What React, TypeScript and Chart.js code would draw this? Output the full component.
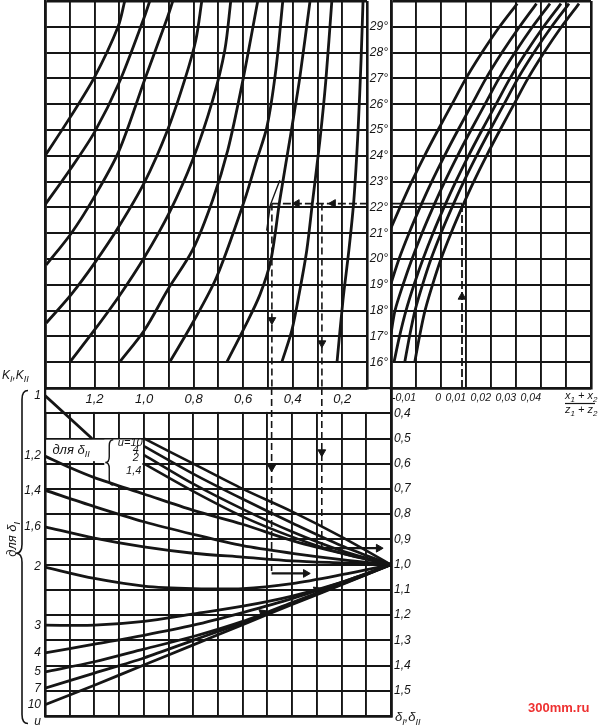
import { useEffect, useRef } from 'react';
import { Chart, registerables } from 'chart.js';

Chart.register(...registerables);

type Pt = [number, number];

const INK = '#151515';
const FONT = '"Liberation Sans", "DejaVu Sans", Arial, sans-serif';

/* ---------- upper-left field: coefficient 1,4 … 0,1 against β (15°…30°) ---------- */
const UL_TICK_LABELS = [1.2, 1.0, 0.8, 0.6, 0.4, 0.2];
const BETA_TICK_LABELS = [16, 17, 18, 19, 20, 21, 22, 23, 24, 25, 26, 27, 28, 29];

const UL_A: Pt[] = [[1.40, 24.0], [1.30, 25.47], [1.20, 27.05], [1.105, 29.0], [1.078, 30]];
const UL_B: Pt[] = [[1.40, 22.1], [1.30, 23.45], [1.20, 24.92], [1.10, 26.85], [1.00, 29.35], [0.977, 30]];
const UL_C: Pt[] = [[1.395, 19.77], [1.293, 21.01], [1.208, 22.29], [1.103, 24.15], [0.998, 26.94], [0.905, 29.38], [0.884, 30]];
const UL_D: Pt[] = [[1.395, 17.52], [1.293, 18.64], [1.20, 19.84], [1.103, 21.24], [0.998, 22.98], [0.905, 25.0], [0.836, 26.94], [0.791, 28.49], [0.767, 30]];
const UL_E: Pt[] = [[1.30, 16.0], [1.20, 17.25], [1.103, 18.53], [0.998, 20.08], [0.897, 21.82], [0.804, 23.84], [0.723, 26.16], [0.674, 28.1], [0.65, 30]];
const UL_F: Pt[] = [[1.099, 16.0], [0.998, 17.25], [0.905, 18.8], [0.804, 20.35], [0.723, 22.29], [0.662, 24.22], [0.605, 26.74], [0.541, 30]];
const UL_G: Pt[] = [[0.897, 16.0], [0.804, 17.52], [0.707, 19.3], [0.594, 22.29], [0.545, 23.84], [0.504, 25.12], [0.468, 27.33], [0.44, 30]];
const UL_H: Pt[] = [[0.666, 16.0], [0.594, 17.36], [0.533, 18.6], [0.488, 19.96], [0.452, 22.29], [0.403, 25.12], [0.371, 27.05], [0.33, 30]];
const UL_I: Pt[] = [[0.444, 16.0], [0.403, 17.25], [0.371, 18.8], [0.343, 20.35], [0.319, 22.29], [0.29, 24.61], [0.266, 26.94], [0.242, 30]];
const UL_J: Pt[] = [[0.221, 16.0], [0.197, 18.41], [0.173, 20.35], [0.153, 22.29], [0.136, 25.0], [0.124, 27.71], [0.116, 30]];

// worked example in the upper-left field
const UL_PATH_H: Pt[] = [[0.484, 22.15], [0.1, 22.15]];
const UL_PATH_V1: Pt[] = [[0.484, 22.15], [0.484, 15]];
const UL_PATH_V2: Pt[] = [[0.282, 22.15], [0.282, 15]];
const UL_MARK: Pt[] = [[0.452, 23.05], [0.49, 22.1], [0.505, 21.1]];
const UL_HEADS: Pt[] = [[0.383, 22.15], [0.237, 22.15], [0.484, 17.64], [0.282, 16.74]];
const UL_HEAD_DIR = [270, 270, 180, 180];

/* ---------- upper-right field: (x1+x2)/(z1+z2) against β ---------- */
const UR_TICK_LABELS = [-0.01, 0, 0.01, 0.02, 0.03, 0.04];

const UR_1: Pt[] = [[-0.02, 21.2], [-0.0164, 22], [-0.0117, 23], [-0.0066, 24], [-0.0012, 25], [0.0044, 26], [0.01, 27], [0.0164, 28], [0.0234, 29], [0.0305, 29.9]];
const UR_2: Pt[] = [[-0.02, 19.05], [-0.0168, 20], [-0.0128, 21], [-0.0084, 22], [-0.0037, 23], [0.0014, 24], [0.0068, 25], [0.0124, 26], [0.018, 27], [0.0244, 28], [0.0314, 29], [0.0382, 29.9]];
const UR_3: Pt[] = [[-0.02, 17.1], [-0.0184, 18], [-0.0152, 19], [-0.0116, 20], [-0.0076, 21], [-0.0032, 22], [0.0015, 23], [0.0066, 24], [0.012, 25], [0.0176, 26], [0.0232, 27], [0.0296, 28], [0.0366, 29], [0.0436, 29.9]];
const UR_4: Pt[] = [[-0.0188, 16], [-0.0166, 17], [-0.014, 18], [-0.0108, 19], [-0.0072, 20], [-0.0032, 21], [0.0012, 22], [0.0059, 23], [0.011, 24], [0.0164, 25], [0.022, 26], [0.0276, 27], [0.034, 28], [0.041, 29], [0.048, 29.9]];
const UR_5: Pt[] = [[-0.0145, 16], [-0.0126, 17], [-0.0104, 18], [-0.0074, 19], [-0.004, 20], [0.0, 21], [0.0044, 22], [0.0091, 23], [0.0142, 24], [0.0196, 25], [0.0252, 26], [0.0308, 27], [0.0372, 28], [0.0442, 29], [0.0512, 29.9]];
const UR_6: Pt[] = [[-0.0105, 16], [-0.0086, 17], [-0.0064, 18], [-0.0034, 19], [0.0, 20], [0.004, 21], [0.0084, 22], [0.0131, 23], [0.0182, 24], [0.0236, 25], [0.0292, 26], [0.0348, 27], [0.0412, 28], [0.0482, 29], [0.0552, 29.9]];

const UR_PATH_V: Pt[] = [[0.0084, 15], [0.0084, 22.15]];
const UR_PATH_H: Pt[] = [[0.0084, 22.15], [-0.02, 22.15]];
const UR_HEADS: Pt[] = [[0.0084, 18.53]];
const UR_HEAD_DIR = [0];

/* ---------- lower field: δ against the common abscissa ---------- */
const DELTA_TICK_LABELS = [0.4, 0.5, 0.6, 0.7, 0.8, 0.9, 1.0, 1.1, 1.2, 1.3, 1.4, 1.5];

const LO_K1: Pt[] = [[1.40, 0.33], [1.21, 0.50]];
const LO_K12: Pt[] = [[1.4, 0.57], [1.3, 0.615], [1.2, 0.655], [1.0, 0.72], [0.8, 0.785], [0.6, 0.84], [0.4, 0.905], [0.2, 0.955], [0, 1.0]];
const LO_K14: Pt[] = [[1.4, 0.705], [1.2, 0.77], [1.0, 0.83], [0.8, 0.88], [0.6, 0.925], [0.4, 0.955], [0.2, 0.98], [0, 1.0]];
const LO_K16: Pt[] = [[1.4, 0.85], [1.2, 0.895], [1.0, 0.93], [0.8, 0.955], [0.6, 0.97], [0.4, 0.985], [0.2, 0.993], [0, 1.0]];
const LO_K2: Pt[] = [[1.4, 1.01], [1.2, 1.055], [1.0, 1.085], [0.8, 1.095], [0.6, 1.095], [0.4, 1.075], [0.2, 1.04], [0, 1.0]];
const LO_K3: Pt[] = [[1.4, 1.24], [1.2, 1.24], [1.0, 1.225], [0.8, 1.195], [0.6, 1.165], [0.4, 1.125], [0.2, 1.07], [0, 1.0]];
const LO_K4: Pt[] = [[1.4, 1.35], [1.2, 1.315], [1.0, 1.28], [0.8, 1.24], [0.6, 1.19], [0.4, 1.135], [0.2, 1.07], [0, 1.0]];
const LO_K5: Pt[] = [[1.4, 1.425], [1.2, 1.385], [1.0, 1.335], [0.8, 1.285], [0.6, 1.225], [0.4, 1.15], [0.2, 1.075], [0, 1.0]];
const LO_K7: Pt[] = [[1.4, 1.49], [1.2, 1.43], [1.0, 1.37], [0.8, 1.30], [0.6, 1.23], [0.4, 1.155], [0.2, 1.078], [0, 1.0]];
const LO_K10: Pt[] = [[1.4, 1.555], [1.2, 1.478], [1.0, 1.398], [0.8, 1.318], [0.6, 1.238], [0.4, 1.158], [0.2, 1.08], [0, 1.0]];

const LO_U10: Pt[] = [[1.0, 0.50], [0.8, 0.60], [0.6, 0.70], [0.4, 0.79], [0.2, 0.89], [0, 1.0]];
const LO_U4: Pt[] = [[1.0, 0.53], [0.8, 0.64], [0.6, 0.74], [0.4, 0.835], [0.2, 0.925], [0, 1.0]];
const LO_U2: Pt[] = [[1.0, 0.565], [0.8, 0.68], [0.6, 0.78], [0.4, 0.87], [0.2, 0.945], [0, 1.0]];
const LO_U14: Pt[] = [[1.0, 0.60], [0.8, 0.71], [0.6, 0.81], [0.4, 0.89], [0.2, 0.955], [0, 1.0]];

const K_LABELS = ['1', '1,2', '1,4', '1,6', '2', '3', '4', '5', '7', '10'];
const K_CURVES = [LO_K1, LO_K12, LO_K14, LO_K16, LO_K2, LO_K3, LO_K4, LO_K5, LO_K7, LO_K10];
const U_LABELS = ['u=10', '4', '2', '1,4'];

const LO_PATH_V1: Pt[] = [[0.483, 0.3], [0.483, 1.035]];
const LO_PATH_V2: Pt[] = [[0.28, 0.3], [0.28, 0.935]];
const LO_PATH_H1: Pt[] = [[0.483, 1.035], [0.35, 1.035]];
const LO_PATH_H2: Pt[] = [[0.28, 0.935], [0.055, 0.935]];
const LO_HEADS: Pt[] = [[0.483, 0.614], [0.28, 0.554], [0.345, 1.035], [0.05, 0.935], [0.30, 1.10], [0.52, 1.19]];
const LO_HEAD_DIR = [180, 180, 90, 90, 68, 68];

/* ---------- helpers ---------- */
const pts = (a: Pt[]) => a.map(([x, y]) => ({ x, y }));
const near = (list: number[], v: number) => list.find((t) => Math.abs(t - v) < 1e-6);
const fmt = (v: number, d: number) => v.toFixed(d).replace('.', ',');
const tickFont = (size: number) => ({ family: FONT, size, style: 'italic' as const, weight: 'normal' as const });

const curve = (a: Pt[], w = 2.8) => ({
  data: pts(a), showLine: true, borderColor: INK, borderWidth: w,
  pointRadius: 0, pointHoverRadius: 0, tension: 0.3, fill: false,
});
const guide = (a: Pt[], dash: number[] = [7, 4], w = 1.6) => ({
  data: pts(a), showLine: true, borderColor: INK, borderWidth: w, borderDash: dash,
  pointRadius: 0, pointHoverRadius: 0, tension: 0, fill: false,
});
const heads = (a: Pt[], rot: number[]) => ({
  data: pts(a), showLine: false, pointStyle: 'triangle', pointRadius: 4.5,
  pointRotation: rot, pointBackgroundColor: INK, pointBorderColor: INK, pointBorderWidth: 1,
});

const grid = (edges: number[]) => ({
  color: INK,
  drawTicks: false,
  lineWidth: (c: any) => (edges.some((e) => Math.abs((c.tick ? c.tick.value : NaN) - e) < 1e-6) ? 2.6 : 1.9),
});
const frame = { color: INK, width: 2.6 };
const fitTo = (size: number, horizontal: boolean) => (s: any) => {
  if (horizontal) s.height = size; else s.width = size;
  s.paddingTop = 0; s.paddingBottom = 0; s.paddingLeft = 0; s.paddingRight = 0;
};

type Run = [string, boolean];
function drawRuns(ctx: CanvasRenderingContext2D, runs: Run[], x: number, y: number, size: number, align: 'left' | 'right' | 'center' = 'left') {
  const big = `italic ${size}px ${FONT}`;
  const small = `italic ${Math.round(size * 0.72)}px ${FONT}`;
  let total = 0;
  for (const [t, s] of runs) { ctx.font = s ? small : big; total += ctx.measureText(t).width; }
  let cx = align === 'left' ? x : align === 'right' ? x - total : x - total / 2;
  ctx.textAlign = 'left';
  ctx.textBaseline = 'alphabetic';
  for (const [t, s] of runs) {
    ctx.font = s ? small : big;
    ctx.fillText(t, cx, s ? y + size * 0.28 : y);
    cx += ctx.measureText(t).width;
  }
}

function brace(ctx: CanvasRenderingContext2D, x: number, top: number, mid: number, bottom: number, d: number) {
  ctx.beginPath();
  ctx.moveTo(x + d, top);
  ctx.quadraticCurveTo(x, top, x, top + d * 1.5);
  ctx.lineTo(x, mid - d * 1.5);
  ctx.quadraticCurveTo(x, mid, x - d, mid);
  ctx.quadraticCurveTo(x, mid, x, mid + d * 1.5);
  ctx.lineTo(x, bottom - d * 1.5);
  ctx.quadraticCurveTo(x, bottom, x + d, bottom);
  ctx.stroke();
}

const baseOptions = (padding: any) => ({
  responsive: false,
  animation: false as const,
  events: [] as any[],
  devicePixelRatio: 1,
  layout: { autoPadding: false, padding },
  plugins: { legend: { display: false }, tooltip: { enabled: false } },
});

/* lower field: blank label strip, legend panel and all side lettering */
const lowerNotes = {
  id: 'lowerNotes',
  beforeDatasetsDraw(chart: any) {
    const { ctx, chartArea: a, scales } = chart;
    const px = (v: number) => scales.x.getPixelForValue(v);
    const py = (v: number) => scales.y.getPixelForValue(v);
    ctx.save();
    ctx.fillStyle = '#fff';
    ctx.fillRect(a.left + 1.4, py(0.3) + 1.3, a.right - a.left - 2.8, py(0.4) - py(0.3) - 2.6);
    ctx.fillRect(px(1.395), py(0.505), px(1.006) - px(1.395), py(0.59) - py(0.505));
    ctx.fillRect(px(1.16), py(0.505), px(1.006) - px(1.16), py(0.69) - py(0.505));
    ctx.restore();
  },
  afterDraw(chart: any) {
    const { ctx, chartArea: a, scales } = chart;
    const px = (v: number) => scales.x.getPixelForValue(v);
    const py = (v: number) => scales.y.getPixelForValue(v);
    ctx.save();
    ctx.fillStyle = INK;
    ctx.strokeStyle = INK;

    // K values at the start of each δI curve
    ctx.font = `italic 12px ${FONT}`;
    ctx.textAlign = 'right';
    ctx.textBaseline = 'middle';
    K_LABELS.forEach((t, i) => ctx.fillText(t, a.left - 4, py(K_CURVES[i][0][1])));
    ctx.fillText('u', a.left - 4, py(1.624));
    drawRuns(ctx, [['K', false], ['I', true], [',K', false], ['II', true]], a.left - 43, py(0.3) - 9, 12);

    // brace and caption for δI
    ctx.lineWidth = 1.6;
    brace(ctx, a.left - 23, py(0.31), py(0.955), py(1.63), 6);
    ctx.save();
    ctx.translate(a.left - 34, py(0.9));
    ctx.rotate(-Math.PI / 2);
    drawRuns(ctx, [['для δ', false], ['I', true]], 0, 5, 13, 'center');
    ctx.restore();

    // legend for the δII curves
    drawRuns(ctx, [['для δ', false], ['II', true]], px(1.37), py(0.56), 13);
    ctx.lineWidth = 1.4;
    brace(ctx, px(1.14), py(0.505), py(0.595), py(0.685), 4);
    ctx.font = `italic 11px ${FONT}`;
    ctx.textAlign = 'right';
    ctx.textBaseline = 'alphabetic';
    ctx.fillText(U_LABELS[0], px(1.005), py(0.528));
    ctx.fillText(U_LABELS[1], px(1.02), py(0.557));
    ctx.fillText(U_LABELS[2], px(1.02), py(0.59));
    ctx.fillText(U_LABELS[3], px(1.01), py(0.64));

    // axis caption under the δ scale
    drawRuns(ctx, [['δ', false], ['I', true], [',δ', false], ['II', true]], a.right + 4, py(1.6) + 5, 13);

    ctx.font = `bold 13px ${FONT}`;
    ctx.fillStyle = '#ee3030';
    ctx.textAlign = 'left';
    ctx.fillText('300mm.ru', 528, 712);
    ctx.restore();
  },
};

/* upper-right field: abscissa caption as a fraction */
const rightNotes = {
  id: 'rightNotes',
  afterDraw(chart: any) {
    const { ctx, chartArea: a, scales } = chart;
    const x0 = scales.x.getPixelForValue(0.05) - 1;
    ctx.save();
    ctx.fillStyle = INK;
    ctx.strokeStyle = INK;
    drawRuns(ctx, [['x', false], ['1', true], [' + x', false], ['2', true]], x0, a.bottom + 11, 11);
    ctx.lineWidth = 1.2;
    ctx.beginPath();
    ctx.moveTo(x0, a.bottom + 15.5);
    ctx.lineTo(x0 + 30, a.bottom + 15.5);
    ctx.stroke();
    drawRuns(ctx, [['z', false], ['1', true], [' + z', false], ['2', true]], x0, a.bottom + 25, 11);
    ctx.restore();
  },
};

export default function App() {
  const loRef = useRef<HTMLCanvasElement>(null);
  const ulRef = useRef<HTMLCanvasElement>(null);
  const urRef = useRef<HTMLCanvasElement>(null);

  useEffect(() => {
    const charts: Chart[] = [];

    charts.push(new Chart(loRef.current as HTMLCanvasElement, {
      type: 'scatter',
      data: {
        datasets: [
          ...K_CURVES.map((c) => curve(c)),
          ...[LO_U10, LO_U4, LO_U2, LO_U14].map((c) => curve(c, 2.6)),
          guide(LO_PATH_V1), guide(LO_PATH_V2),
          guide(LO_PATH_H1, [], 2.2), guide(LO_PATH_H2, [], 2.2),
          heads(LO_HEADS, LO_HEAD_DIR),
        ] as any,
      },
      options: {
        ...baseOptions({ left: 45, right: 179, top: 388, bottom: 11 }),
        scales: {
          x: {
            type: 'linear', reverse: true, min: 0, max: 1.4, afterFit: fitTo(0, true),
            grid: grid([0, 1.4]), border: frame, ticks: { stepSize: 0.1, display: false },
          },
          y: {
            type: 'linear', position: 'right', reverse: true, min: 0.3, max: 1.6, afterFit: fitTo(30, false),
            grid: grid([0.3, 1.6]), border: frame,
            ticks: {
              stepSize: 0.1, padding: 3, color: INK, font: tickFont(12), autoSkip: false,
              callback: (v: any) => { const h = near(DELTA_TICK_LABELS, Number(v)); return h === undefined ? '' : fmt(h, 1); },
            },
          },
        },
      } as any,
      plugins: [lowerNotes],
    }));

    charts.push(new Chart(ulRef.current as HTMLCanvasElement, {
      type: 'scatter',
      data: {
        datasets: [
          ...[UL_A, UL_B, UL_C, UL_D, UL_E, UL_F, UL_G, UL_H, UL_I, UL_J].map((c) => curve(c)),
          guide(UL_PATH_H, [8, 3], 1.8), guide(UL_PATH_V1), guide(UL_PATH_V2),
          guide(UL_MARK, [], 1.4),
          heads(UL_HEADS, UL_HEAD_DIR),
        ] as any,
      },
      options: {
        ...baseOptions({ left: 45, right: 233, top: 1, bottom: 317 }),
        scales: {
          x: {
            type: 'linear', reverse: true, min: 0.1, max: 1.4, afterFit: fitTo(22, true),
            grid: grid([0.1, 1.4]), border: frame,
            ticks: {
              stepSize: 0.1, autoSkip: false, maxRotation: 0, minRotation: 0, padding: 4, color: INK, font: tickFont(13),
              callback: (v: any) => { const h = near(UL_TICK_LABELS, Number(v)); return h === undefined ? '' : fmt(h, 1); },
            },
          },
          y: {
            type: 'linear', min: 15, max: 30, afterFit: fitTo(0, false),
            grid: grid([15, 30]), border: frame, ticks: { stepSize: 1, display: false },
          },
        },
      } as any,
    }));

    charts.push(new Chart(urRef.current as HTMLCanvasElement, {
      type: 'scatter',
      data: {
        datasets: [
          ...[UR_1, UR_2, UR_3, UR_4, UR_5, UR_6].map((c) => curve(c)),
          guide(UR_PATH_V, [8, 3], 1.8), guide(UR_PATH_H, [], 1.8),
          heads(UR_HEADS, UR_HEAD_DIR),
        ] as any,
      },
      options: {
        ...baseOptions({ left: 367, right: 9, top: 1, bottom: 317 }),
        scales: {
          x: {
            type: 'linear', min: -0.02, max: 0.06, afterFit: fitTo(22, true),
            grid: grid([-0.02, 0.06]), border: frame,
            ticks: {
              stepSize: 0.01, autoSkip: false, maxRotation: 0, minRotation: 0, padding: 4, align: 'end',
              color: INK, font: tickFont(10.5),
              callback: (v: any) => { const h = near(UR_TICK_LABELS, Number(v)); return h === undefined ? '' : (h === 0 ? '0' : fmt(h, 2)); },
            },
          },
          y: {
            type: 'linear', min: 15, max: 30, afterFit: fitTo(24, false),
            grid: grid([15, 30]), border: frame,
            ticks: {
              stepSize: 1, padding: 3, color: INK, font: tickFont(12), autoSkip: false,
              callback: (v: any) => { const h = near(BETA_TICK_LABELS, Number(v)); return h === undefined ? '' : `${h}°`; },
            },
          },
        },
      } as any,
      plugins: [rightNotes],
    }));

    return () => charts.forEach((c) => c.destroy());
  }, []);

  const layer: any = { position: 'absolute', left: 0, top: 0, width: 600, height: 727 };
  return (
    <div style={{ position: 'absolute', left: 0, top: 0, width: 600, height: 727, background: '#fff' }}>
      <canvas ref={loRef} width={600} height={727} style={layer} />
      <canvas ref={ulRef} width={600} height={727} style={layer} />
      <canvas ref={urRef} width={600} height={727} style={layer} />
    </div>
  );
}
